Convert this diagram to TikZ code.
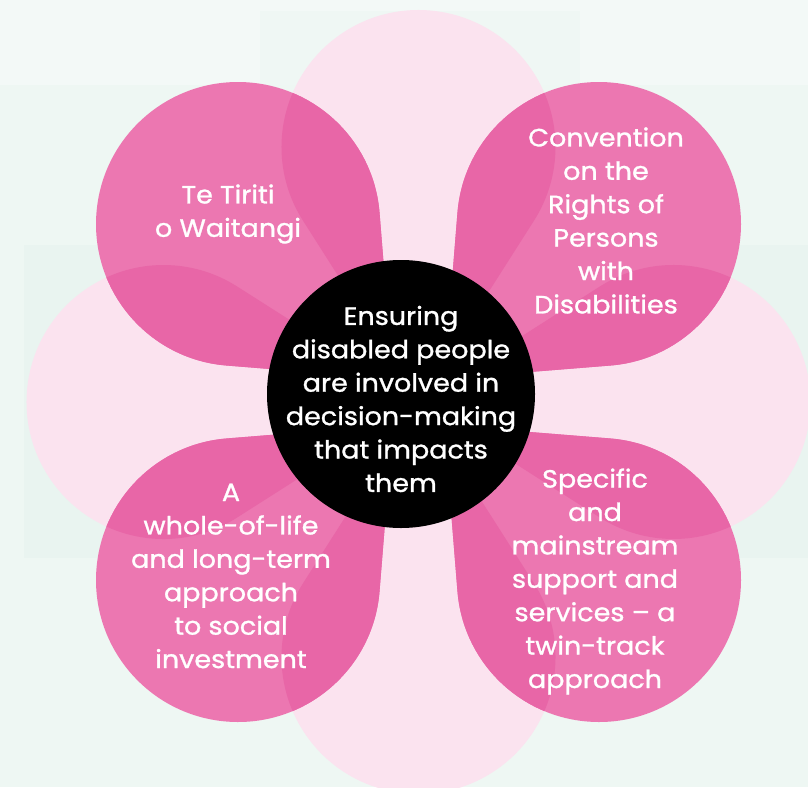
\documentclass[tikz,border=0pt]{standalone}
\usepackage{fontspec}
\setmainfont{Poppins}
\newfontfamily\lblfont{Poppins}[FakeBold=1.1, FakeStretch=1.08]
\usetikzlibrary{calc}
\definecolor{bgA}{HTML}{F3F9F7}
\definecolor{bgB}{HTML}{EEF7F3}
\definecolor{bgC}{HTML}{E9F4F0}
\definecolor{bgD}{HTML}{EFF7F4}
\definecolor{lobepink}{HTML}{FBE3EF}
\definecolor{petalpink}{HTML}{EC77B1}
\definecolor{petaldeep}{HTML}{E866A7}
% cone: #1 centre of round end, #2 radius, #3 direction centre->tip, #4 half angle beta, #5 tip
\newcommand\conep[5]{(#5) -- ([shift={(#1)}]#3+#4:#2) arc[start angle=#3+#4, end angle=#3-#4+360, radius=#2] -- cycle}
\newcommand\lobes{%
  \conep{418.5,147}{137}{90}{57.5}{418.5,402}
  \conep{418.5,657}{137}{270}{57.5}{418.5,402}
  \conep{163.5,402}{137}{0}{57.5}{418.5,402}
  \conep{673.5,402}{137}{180}{57.5}{418.5,402}}
\newcommand\petalTL{\conep{238,224}{142}{45}{49.6}{392.9,378.9}}
\newcommand\petalTR{\conep{599,224}{142}{135}{49.6}{444.1,378.9}}
\newcommand\petalBL{\conep{238,580}{142}{315}{49.6}{392.9,425.1}}
\newcommand\petalBR{\conep{599,580}{142}{225}{49.6}{444.1,425.1}}
\tikzset{
  lbl/.style={text=white, align=center, inner sep=0pt,
    font=\lblfont\fontsize{25}{33.4}\selectfont},
}
\begin{document}
\begin{tikzpicture}[x=1pt,y=-1pt]
\useasboundingbox (0,0) rectangle (808,787);
% background
\fill[bgA] (0,0) rectangle (808,787);
\fill[bgB] (0,85) rectangle (808,787);
\fill[bgD] (260,11) rectangle (580,85);
\fill[bgC] (24,245) rectangle (808,558);
% light clover
\fill[lobepink] \lobes;
% petals
\foreach \p in {\petalTL,\petalTR,\petalBL,\petalBR}{
  \fill[petalpink] \p;
  \begin{scope}
    \clip \p;
    \fill[petaldeep] \lobes;
  \end{scope}
}
% hub
\node[circle, fill=black, minimum size=268pt, inner sep=0pt] (hub) at (401,394) {};
% labels
\node[lbl] (centre) at (401,399) {Ensuring\\disabled people\\are involved in\\decision-making\\that impacts\\them};
\node[lbl] (tiriti) at (228,214) {Te Tiriti\\o Waitangi};
\node[lbl] (crpd) at (606,220.5) {Convention\\on the\\Rights of\\Persons\\with\\Disabilities};
\node[lbl] (life) at (231,576) {A\\whole-of-life\\and long-term\\approach\\to social\\investment};
\node[lbl] (twin) at (595,581.5) {Specific\\and\\mainstream\\support and\\services – a\\twin-track\\approach};
\end{tikzpicture}
\end{document}
